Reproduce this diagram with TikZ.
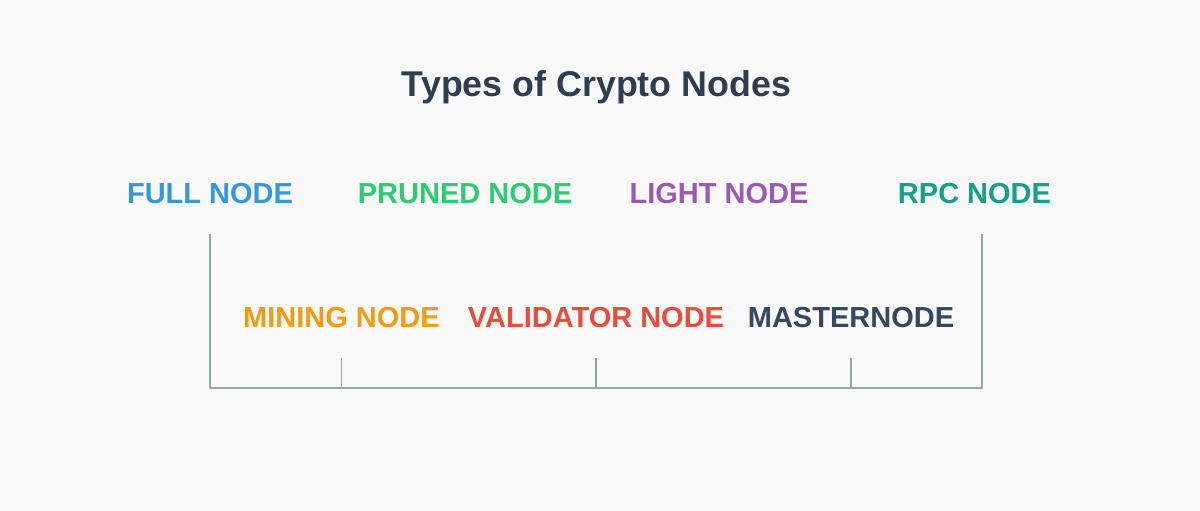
\documentclass[tikz,border=0pt]{standalone}
\usepackage{fontspec}
\setmainfont{Liberation Sans}
\definecolor{bg}{HTML}{F9F9FA}
\definecolor{titlecol}{HTML}{2C3E50}
\definecolor{railgray}{HTML}{95A5A6}
\definecolor{fullcol}{HTML}{3498DB}
\definecolor{prunedcol}{HTML}{2ECC71}
\definecolor{lightcol}{HTML}{9B59B6}
\definecolor{rpccol}{HTML}{16A085}
\definecolor{miningcol}{HTML}{F39C12}
\definecolor{validcol}{HTML}{E74C3C}
\definecolor{mastercol}{HTML}{34495E}
\begin{document}
\begin{tikzpicture}[x = 1pt, y = -1pt,
    nodetype/.style = { anchor = base, inner sep = 0pt, font = \bfseries\fontsize{29}{34}\selectfont },
    rail/.style = { draw = railgray, line width = 1.3pt }]
  \useasboundingbox [fill = bg] (0,0) rectangle (1200,511);
  \node [anchor = base, inner sep = 0pt, text = titlecol, font = \bfseries\fontsize{35.8}{42}\selectfont] (title) at (596.5,96.7) {Types of Crypto Nodes};
  % top row
  \node [nodetype, text = fullcol] (full) at (210,203) {FULL NODE};
  \node [nodetype, text = prunedcol] (pruned) at (465,203) {PRUNED NODE};
  \node [nodetype, text = lightcol] (light) at (719,203) {LIGHT NODE};
  \node [nodetype, text = rpccol] (rpc) at (974.5,203) {RPC NODE};
  % bottom row
  \node [nodetype, text = miningcol] (mining) at (341.5,327) {MINING NODE};
  \node [nodetype, text = validcol] (validator) at (596,327) {VALIDATOR NODE};
  \node [nodetype, text = mastercol] (master) at (851,327) {MASTERNODE};
  \coordinate (railL) at (full |- 0,388);
  \coordinate (railR) at (982,388);
  \draw [rail] (full |- 0,234) -- (railL) -- (railR) -- (railR |- 0,234);
  \foreach \n in {mining, validator, master}
    \draw [rail] (\n |- 0,358) -- (\n |- railL);
\end{tikzpicture}
\end{document}
